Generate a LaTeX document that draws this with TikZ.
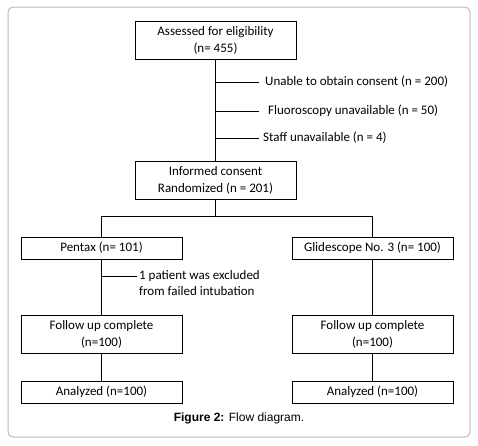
\documentclass[tikz,border=0pt]{standalone}
\usepackage{fontspec}
\setmainfont{Carlito}
\newfontfamily\capfont{Liberation Sans}
\begin{document}
\begin{tikzpicture}[x=1pt,y=-1pt,
  box/.style={draw, line width=0.8pt, align=center, inner sep=0pt, minimum width=161pt, font=\fontsize{13}{17}\selectfont},
  tall/.style={box, minimum height=38pt},
  short/.style={box, minimum height=22pt},
  lbl/.style={anchor=west, inner sep=0pt, align=left, font=\fontsize{13}{16}\selectfont},
  conn/.style={line width=0.8pt}]
\useasboundingbox (0,0) rectangle (478,445);
\draw[black!28, rounded corners=5pt, line width=1pt] (8,7) rectangle (470,437);

\node[tall] (top) at (215.5,40) {Assessed for eligibility\\(n= 455)};
\node[tall] (rand) at (215.5,180) {Informed consent\\Randomized (n = 201)};
\node[short] (pentax) at (101.5,248) {Pentax (n= 101)};
\node[short] (glide) at (372.5,248) {Glidescope No. 3 (n= 100)};
\node[tall] (fu1) at (101.5,334) {Follow up complete\\(n=100)};
\node[tall] (fu2) at (372.5,334) {Follow up complete\\(n=100)};
\node[short] (an1) at (101.5,392) {Analyzed (n=100)};
\node[short] (an2) at (372.5,392) {Analyzed (n=100)};

\draw[conn] (top) -- (rand);
\coordinate (b1) at (215.5,82);
\coordinate (b2) at (215.5,111);
\coordinate (b3) at (215.5,138);
\coordinate (e1) at (259,82);
\coordinate (e2) at (259,111);
\coordinate (e3) at (259,138);
\draw[conn] (b1) -- (e1);
\draw[conn] (b2) -- (e2);
\draw[conn] (b3) -- (e3);
\node[lbl] (t1) at (265,82) {Unable to obtain consent (n = 200)};
\node[lbl] (t2) at (268,111) {Fluoroscopy unavailable (n = 50)};
\node[lbl] (t3) at (263,138) {Staff unavailable (n = 4)};

\draw[conn] (rand.south) -- ++(0,17) -| (pentax.north);
\draw[conn] (rand.south) -- ++(0,17) -| (glide.north);

\draw[conn] (pentax) -- (fu1);
\draw[conn] (glide) -- (fu2);
\coordinate (x1) at (101.5,276);
\coordinate (x2) at (137,276);
\draw[conn] (x1) -- (x2);
\node[lbl] (xt) at (139,283.5) {1 patient was excluded\\from failed intubation};

\draw[conn] (fu1) -- (an1);
\draw[conn] (fu2) -- (an2);

\node[inner sep=0pt] (cap) at (239,418) {\capfont\fontsize{12}{14}\selectfont\textbf{Figure 2:} Flow diagram.};
\end{tikzpicture}
\end{document}
